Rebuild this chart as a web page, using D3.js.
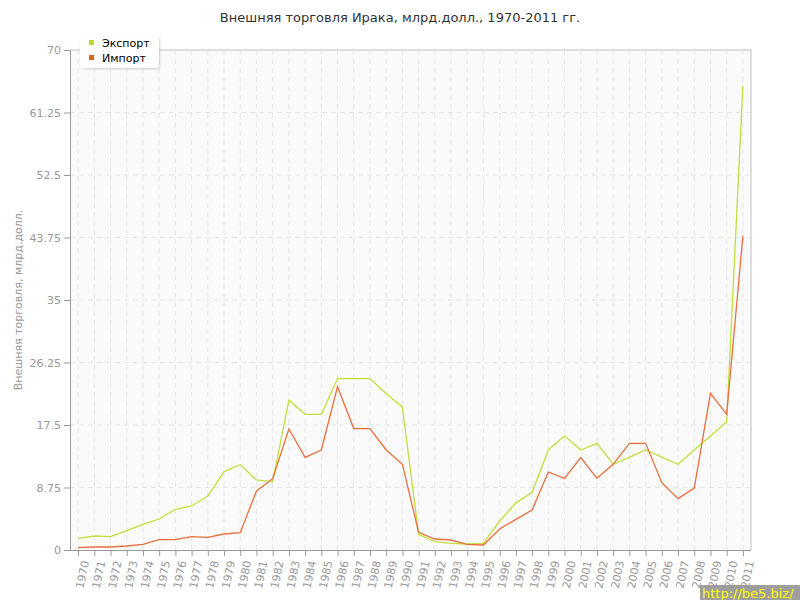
<!DOCTYPE html>
<html><head><meta charset="utf-8">
<script src="https://cdn.jsdelivr.net/npm/d3@7"></script>
<style>body{margin:0;background:#fff;}svg{display:block;font-family:"DejaVu Sans",Verdana,sans-serif;}</style>
</head><body>
<script>
const years = d3.range(1970, 2012).map(String);
const exportVals = [1.64,1.96,1.87,2.7,3.6,4.34,5.7,6.16,7.56,10.97,11.95,9.8,9.57,21.0,19.0,19.0,24.0,24.0,24.0,21.9,20.0,2.2,1.17,0.93,0.84,0.93,4.06,6.6,8.07,14.0,15.96,14.0,14.93,12.0,12.97,14.0,13.0,12.0,14.0,15.96,17.97,65.0];
const importVals = [0.33,0.42,0.42,0.56,0.79,1.45,1.45,1.87,1.77,2.24,2.43,8.26,9.99,16.94,12.97,14.0,22.87,17.0,17.0,14.0,12.0,2.47,1.54,1.4,0.79,0.7,2.94,4.29,5.6,10.92,10.03,12.93,10.03,12.0,14.93,14.93,9.43,7.19,8.68,21.93,19.0,44.0];
const yTicks = [0,8.75,17.5,26.25,35,43.75,52.5,61.25,70];
const seriesNames = ["Экспорт","Импорт"];
const colors = ["#c3de3c","#e8703f"];
const legendColors = ["#b8d82a","#e0602c"];

const W=800,H=600, L=70, R=751, T=50, B=550;
const svg = d3.select("body").append("svg").attr("width",W).attr("height",H);

svg.append("text").attr("x",400).attr("y",22).attr("text-anchor","middle")
  .attr("font-size",13).attr("fill","#333").text("Внешняя торговля Ирака, млрд.долл., 1970-2011 гг.");

const x = d3.scaleBand().domain(years).range([L,R]);
const y = d3.scaleLinear().domain([0,70]).range([B,T]);
const cx = d => x(d)+x.bandwidth()/2;

svg.append("rect").attr("x",L).attr("y",T).attr("width",R-L).attr("height",B-T).attr("fill","#fafafa");
// grid
svg.append("g").selectAll("line").data(years).join("line")
  .attr("x1",cx).attr("x2",cx).attr("y1",T).attr("y2",B)
  .attr("stroke","#e6e6e6").attr("stroke-dasharray","5,4");
svg.append("g").selectAll("line").data(yTicks.slice(1)).join("line")
  .attr("x1",L).attr("x2",R).attr("y1",d=>y(d)).attr("y2",d=>y(d))
  .attr("stroke","#e6e6e6").attr("stroke-dasharray","5,4");
// border top/right
svg.append("path").attr("d",`M${L},${T}H${R}V${B}`).attr("fill","none").attr("stroke","#dedede").attr("stroke-width",2);

// axes
const yAxis = svg.append("g").attr("transform",`translate(${L},0)`)
  .call(d3.axisLeft(y).tickValues(yTicks).tickSize(6).tickPadding(3).tickFormat(d=>String(d)));
yAxis.select(".domain").attr("stroke","#999");
yAxis.selectAll(".tick line").attr("stroke","#999");
yAxis.selectAll("text").attr("fill","#999").attr("font-size",11).attr("font-family","DejaVu Sans");

const xAxis = svg.append("g").attr("transform",`translate(0,${B})`)
  .call(d3.axisBottom(d3.scalePoint().domain(years).range([cx(years[0]),cx(years[years.length-1])])).tickSize(6).tickSizeOuter(0));
xAxis.select(".domain").attr("d",`M${L},0.5H${R}`).attr("stroke","#999");
xAxis.selectAll(".tick line").attr("stroke","#999");
xAxis.selectAll("text").attr("fill","#999").attr("font-size",11).attr("font-family","DejaVu Sans")
  .attr("text-anchor","end").attr("dy","0.35em")
  .attr("transform","translate(-2,9) rotate(-78)");

svg.append("text").attr("transform","translate(22,300) rotate(-90)").attr("text-anchor","middle")
  .attr("font-size",11).attr("fill","#999").text("Внешняя торговля, млрд.долл.");

// lines
const line = d3.line().x((d,i)=>cx(years[i])).y(d=>y(d));
[exportVals, importVals].forEach((vals,k)=>{
  svg.append("path").datum(vals).attr("d",line).attr("fill","none")
    .attr("stroke",colors[k]).attr("stroke-width",1.3);
});

// legend
const defs = svg.append("defs");
const f = defs.append("filter").attr("id","sh").attr("x","-20%").attr("y","-20%").attr("width","140%").attr("height","160%");
f.append("feDropShadow").attr("dx",1).attr("dy",1).attr("stdDeviation",1.2).attr("flood-color","#000").attr("flood-opacity",0.18);
svg.append("rect").attr("x",80).attr("y",36).attr("width",79).attr("height",32).attr("rx",4)
  .attr("fill","#fff").attr("filter","url(#sh)");
seriesNames.forEach((n,i)=>{
  svg.append("rect").attr("x",89).attr("y",40+i*15).attr("width",5).attr("height",5).attr("fill",legendColors[i]);
  svg.append("text").attr("x",102).attr("y",47+i*15).attr("font-size",11).attr("fill","#000").text(n);
});

// watermark
svg.append("rect").attr("x",700).attr("y",585).attr("width",100).attr("height",15).attr("fill","#999").attr("opacity",0.95);
svg.append("text").attr("x",702).attr("y",598).attr("font-size",13).attr("fill","#ffff00").text("http://be5.biz/");
</script>
</body></html>
